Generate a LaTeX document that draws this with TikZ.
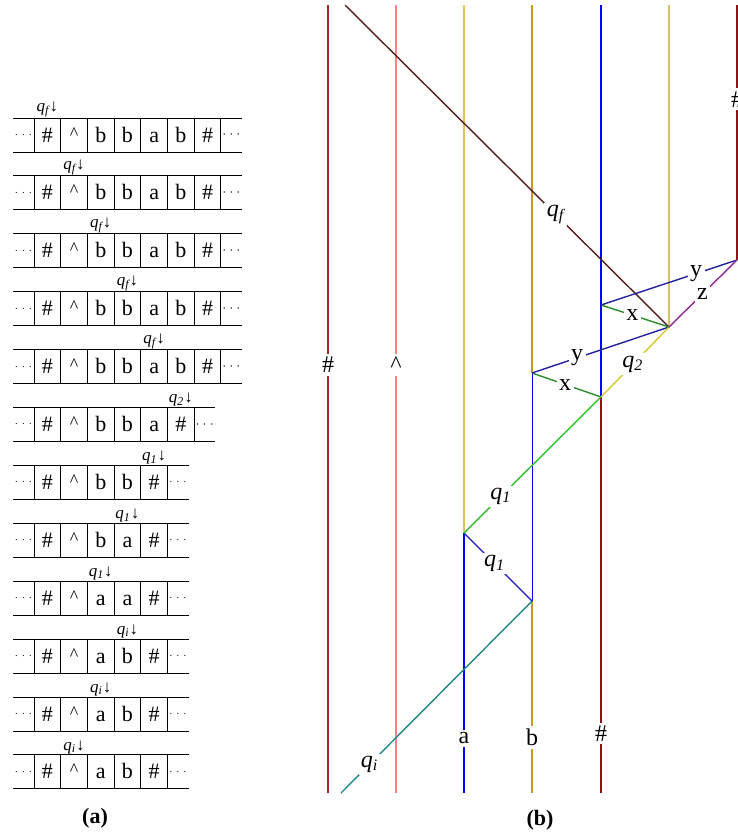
\documentclass[tikz,border=0pt]{standalone}
\usepackage{fontspec}
\setmainfont{Liberation Serif}
\usepackage{tikz}
\usetikzlibrary{positioning}
\definecolor{hashred}{RGB}{165,40,40}
\definecolor{pinkline}{RGB}{255,130,130}
\definecolor{goldlight}{RGB}{225,195,90}
\definecolor{goldline}{RGB}{200,155,30}
\definecolor{tanline}{RGB}{215,190,110}
\definecolor{hashdark}{RGB}{140,20,20}
\definecolor{qfbrown}{RGB}{85,30,30}
\definecolor{qiteal}{RGB}{35,135,135}
\definecolor{navyline}{RGB}{35,35,160}
\definecolor{blueq}{RGB}{25,25,200}
\definecolor{greenq}{RGB}{50,190,50}
\definecolor{greenx}{RGB}{40,140,40}
\definecolor{yellowq}{RGB}{215,200,50}
\definecolor{purplez}{RGB}{150,40,150}
\newcommand{\crt}{\textasciicircum}
\newcommand{\tcrt}{\raisebox{1.5pt}{\fontsize{9}{10}\selectfont\textasciicircum}}
\newcommand{\qs}[1]{\textit{q\textsubscript{#1}}}
\tikzset{
  cell/.style={draw, line width=0.5pt, minimum width=13.35pt, minimum height=17pt, inner sep=0pt, outer sep=0pt, text height=7.5pt, text depth=0.5pt, font=\fontsize{11}{13}\selectfont},
  dotcell/.style={minimum width=10.5pt, minimum height=17pt, inner sep=0pt, outer sep=0pt},
  tapeline/.style={line width=0.5pt},
  headlbl/.style={inner sep=0.3pt, font=\fontsize{8.5}{9}\selectfont},
  vlbl/.style={fill=white, inner sep=1.5pt, text=black, font=\fontsize{12}{14}\selectfont},
  dlbl/.style={fill=white, inner sep=1.2pt, text=black, font=\fontsize{12}{14}\selectfont},
  caption/.style={font=\fontsize{11}{13}\selectfont\bfseries},
  wide/.style={line width=1pt},
  mid/.style={line width=0.7pt},
  slim/.style={line width=0.5pt}
}

\begin{document}
\begin{tikzpicture}[x=0.5pt,y=-0.5pt]
    \useasboundingbox (0,0) rectangle (738,836);
    % (a) tapes
    \foreach \k/\hd/\st/\n/\rs/\cells in {
      0/1/f/7/6.5/{\#,\tcrt,b,b,a,b,\#},
      1/2/f/7/6.5/{\#,\tcrt,b,b,a,b,\#},
      2/3/f/7/6.5/{\#,\tcrt,b,b,a,b,\#},
      3/4/f/7/6.5/{\#,\tcrt,b,b,a,b,\#},
      4/5/f/7/6.5/{\#,\tcrt,b,b,a,b,\#},
      5/6/2/6/6.5/{\#,\tcrt,b,b,a,\#},
      6/5/1/5/4.5/{\#,\tcrt,b,b,\#},
      7/4/1/5/4.5/{\#,\tcrt,b,a,\#},
      8/3/1/5/4.5/{\#,\tcrt,a,a,\#},
      9/4/i/5/4.5/{\#,\tcrt,a,b,\#},
      10/3/i/5/4.5/{\#,\tcrt,a,b,\#},
      11/2/i/5/4.5/{\#,\tcrt,a,b,\#}}{
      \foreach \c [count=\i] in \cells
        \node[cell] (c\k-\i) at ({34+26.7*\i-13.35},{135+57.9*\k}) {\c};
      \node[dotcell, font=\fontsize{4.5}{6}\selectfont, left=0pt of c\k-1] (l\k) {$\cdots$};
      \node[dotcell, font=\fontsize{\rs}{8}\selectfont, right=0pt of c\k-\n] (r\k) {$\cdots$};
      \draw[tapeline] (l\k.north west) -- (r\k.north east);
      \draw[tapeline] (l\k.south west) -- (r\k.south east);
      \node[headlbl, above=0pt of c\k-\hd] (h\k) {\qs{\st}↓};
    }
    \node[caption] (capa) at (95,818) {(a)};

    % (b) space-time lines
    \coordinate (tA) at (328,5);   \coordinate (bA) at (328,793);
    \coordinate (tB) at (396,5);   \coordinate (bB) at (396,793);
    \coordinate (tC) at (464,5);   \coordinate (pC) at (464,533);  \coordinate (bC) at (464,793);
    \coordinate (tD) at (532,5);   \coordinate (pD1) at (532,373); \coordinate (pD2) at (532,601); \coordinate (bD) at (532,793);
    \coordinate (tE) at (601,5);   \coordinate (pE1) at (601,305); \coordinate (pE2) at (601,397); \coordinate (bE) at (601,793);
    \coordinate (tF) at (669,5);   \coordinate (pF) at (669,327);
    \coordinate (tG) at (737,5);   \coordinate (pG) at (737,260);
    \coordinate (sF) at (345,5);   \coordinate (sI) at (341,793);

    \draw[wide, hashred] (tA) -- node[vlbl, pos=0.457] (lA) {\#} (bA);
    \draw[wide, pinkline] (tB) -- node[vlbl, pos=0.457] (lB) {\crt} (bB);
    \draw[mid, goldlight] (tC) -- (pC);
    \draw[wide, blue] (pC) -- node[vlbl, pos=0.79] (lC) {a} (bC);
    \draw[mid, goldline] (tD) -- (pD1);
    \draw[slim, blue] (pD1) -- (pD2);
    \draw[mid, goldline] (pD2) -- node[vlbl, pos=0.71] (lD) {b} (bD);
    \draw[wide, blue] (tE) -- (pE2);
    \draw[wide, hashdark] (pE2) -- node[vlbl, pos=0.85] (lE) {\#} (bE);
    \draw[mid, tanline] (tF) -- (pF);
    \draw[wide, hashdark] (tG) -- node[vlbl, pos=0.37] (lG) {\#} (pG);

    \draw[mid, qfbrown] (sF) -- node[dlbl, pos=0.65] (lqf) {\qs{f}} (pF);
    \draw[mid, qiteal] (sI) -- node[dlbl, pos=0.15] (lqi) {\qs{i}} (pD2);
    \draw[mid, blueq] (pC) -- node[dlbl, pos=0.45] (lq1a) {\qs{1}} (pD2);
    \draw[mid, greenq] (pC) -- node[dlbl, pos=0.27] (lq1b) {\qs{1}} (pE2);
    \draw[mid, greenx] (pD1) -- node[dlbl, pos=0.48] (lx1) {x} (pE2);
    \draw[mid, navyline] (pD1) -- node[dlbl, pos=0.33] (ly1) {y} (pF);
    \draw[mid, yellowq] (pE2) -- node[dlbl, pos=0.47] (lq2) {\qs{2}} (pF);
    \draw[mid, greenx] (pE1) -- node[dlbl, pos=0.46] (lx2) {x} (pF);
    \draw[mid, navyline] (pE1) -- node[dlbl, pos=0.7] (ly2) {y} (pG);
    \draw[mid, purplez] (pF) -- node[dlbl, pos=0.49] (lz) {z} (pG);
    \node[caption] (capb) at (540,820) {(b)};
\end{tikzpicture}
\end{document}
